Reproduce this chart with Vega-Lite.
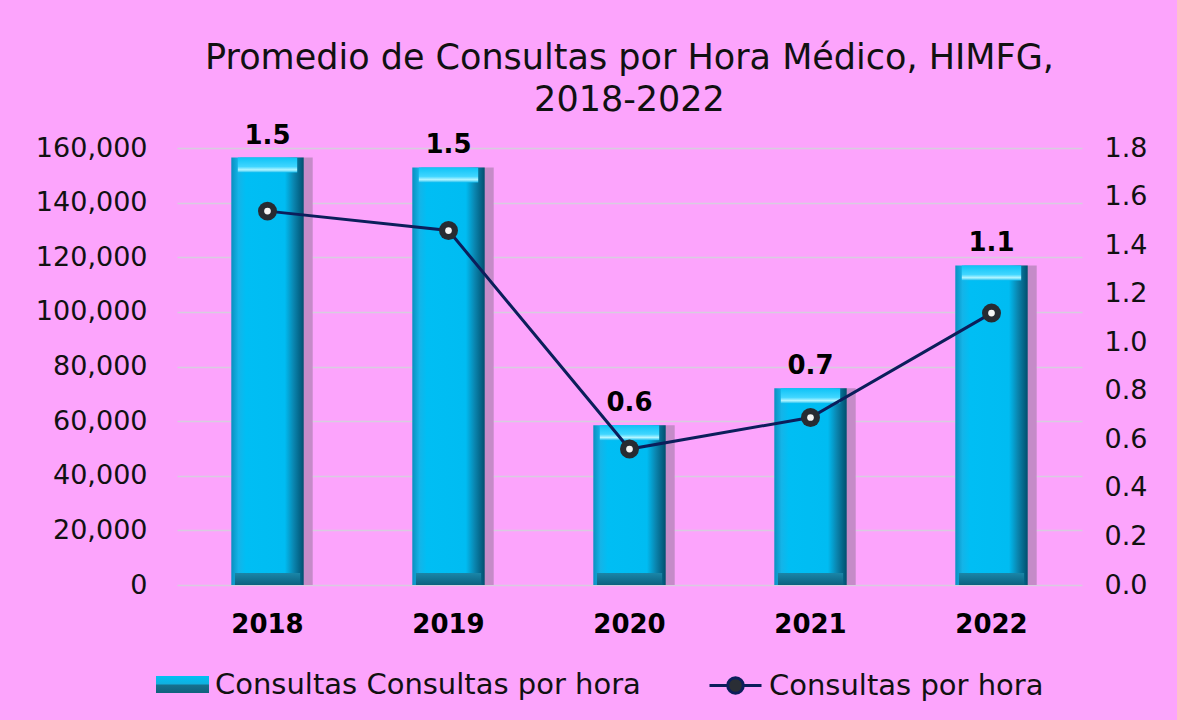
{
  "$schema": "https://vega.github.io/schema/vega-lite/v6.json",
  "width": 905,
  "height": 437,
  "autosize": {"type": "none"},
  "padding": {"left": 177, "top": 148, "right": 95, "bottom": 135},
  "background": "#FCA4FC",
  "title": {
    "text": ["Promedio de Consultas por Hora Médico, HIMFG,", "2018-2022"],
    "font": "DejaVu Sans",
    "fontSize": 35,
    "fontWeight": "normal",
    "color": "#111111",
    "anchor": "middle",
    "offset": 5,
    "lineHeight": 42
  },
  "config": {
    "view": {"stroke": null},
    "font": "DejaVu Sans",
    "legend": {
      "labelFont": "DejaVu Sans",
      "labelFontSize": 29,
      "labelColor": "#111111",
      "labelLimit": 700,
      "title": null
    }
  },
  "data": {
    "values": [
      {"year": "2018", "cons": 156500, "rate": 1.54},
      {"year": "2019", "cons": 152900, "rate": 1.46},
      {"year": "2020", "cons": 58500, "rate": 0.56},
      {"year": "2021", "cons": 72000, "rate": 0.69},
      {"year": "2022", "cons": 117000, "rate": 1.12}
    ]
  },
  "encoding": {
    "x": {
      "field": "year",
      "type": "ordinal",
      "scale": {"paddingInner": 0.6, "paddingOuter": 0.3},
      "axis": {
        "title": null,
        "labelAngle": 0,
        "labelFont": "DejaVu Sans",
        "labelFontSize": 26,
        "labelFontWeight": "bold",
        "labelColor": "#000000",
        "labelPadding": 26,
        "ticks": false,
        "tickSize": 0,
        "domain": false
      }
    }
  },
  "layer": [
    {
      "encoding": {
        "y": {
          "field": "cons",
          "type": "quantitative",
          "scale": {"domain": [0, 160000]},
          "axis": {
            "title": null,
            "values": [0, 20000, 40000, 60000, 80000, 100000, 120000, 140000, 160000],
            "format": ",d",
            "labelFont": "DejaVu Sans",
            "labelFontSize": 27,
            "labelColor": "#111111",
            "labelPadding": 30,
            "ticks": false,
            "tickSize": 0,
            "domain": false,
            "grid": true,
            "gridColor": "#D8CCE0",
            "gridWidth": 1.5
          }
        }
      },
      "layer": [
        {
          "mark": {
            "type": "point",
            "filled": true,
            "opacity": 1,
            "size": 1,
            "fill": {
              "gradient": "linear", "x1": 0, "y1": 0, "x2": 0, "y2": 1,
              "stops": [
                {"offset": 0, "color": "#00C0F4"},
                {"offset": 0.45, "color": "#10B0E0"},
                {"offset": 0.55, "color": "#16708E"},
                {"offset": 1, "color": "#10607E"}
              ]
            }
          },
          "encoding": {
            "y": {"datum": 20000, "type": "quantitative", "title": null},
            "shape": {
              "datum": "Consultas Consultas por hora",
              "scale": {"range": ["M-1,-0.32H1V0.32H-1Z"]},
              "legend": {
                "orient": "none",
                "legendX": -21,
                "legendY": 510,
                "symbolSize": 2809,
                "symbolStrokeWidth": 0,
                "labelOffset": 6
              }
            }
          }
        },
        {
          "mark": {"type": "bar", "xOffset": 9, "color": "#C58BC8"}
        },
        {
          "mark": {
            "type": "bar",
            "fill": {
              "gradient": "linear", "x1": 0, "y1": 0, "x2": 1, "y2": 0,
              "stops": [
                {"offset": 0, "color": "#0A8FC0"},
                {"offset": 0.1, "color": "#14B4E8"},
                {"offset": 0.2, "color": "#00BEF4"},
                {"offset": 0.74, "color": "#00BCF2"},
                {"offset": 0.86, "color": "#0A86B0"},
                {"offset": 1, "color": "#004F6E"}
              ]
            }
          }
        },
        {
          "mark": {
            "type": "bar",
            "width": {"band": 0.82},
            "y2Offset": 15,
            "fill": {
              "gradient": "linear", "x1": 0, "y1": 0, "x2": 0, "y2": 1,
              "stops": [
                {"offset": 0, "color": "#0FC2F6"},
                {"offset": 0.6, "color": "#40D6FF"},
                {"offset": 0.82, "color": "#B4F5FF"},
                {"offset": 1, "color": "#18BEF0"}
              ]
            }
          },
          "encoding": {
            "y2": {"field": "cons"}
          }
        },
        {
          "mark": {
            "type": "bar",
            "y2Offset": -12,
            "width": {"band": 0.9},
            "fill": {
              "gradient": "linear", "x1": 0, "y1": 0, "x2": 0, "y2": 1,
              "stops": [
                {"offset": 0, "color": "#1A86A8"},
                {"offset": 1, "color": "#0C6080"}
              ]
            }
          },
          "encoding": {
            "y": {"datum": 0, "type": "quantitative", "title": null},
            "y2": {"datum": 0}
          }
        },
        {
          "mark": {"type": "text", "font": "DejaVu Sans", "fontSize": 26, "fontWeight": "bold", "color": "#000000", "baseline": "bottom", "dy": -9},
          "encoding": {
            "text": {"field": "rate", "type": "quantitative", "format": ".1f"}
          }
        }
      ]
    },
    {
      "encoding": {
        "y": {
          "field": "rate",
          "type": "quantitative",
          "scale": {"domain": [0, 1.8]},
          "axis": {
            "orient": "right",
            "title": null,
            "values": [0, 0.2, 0.4, 0.6, 0.8, 1.0, 1.2, 1.4, 1.6, 1.8],
            "format": ".1f",
            "labelFont": "DejaVu Sans",
            "labelFontSize": 27,
            "labelColor": "#111111",
            "labelPadding": 22,
            "ticks": false,
            "tickSize": 0,
            "domain": false,
            "grid": false
          }
        }
      },
      "layer": [
        {
          "mark": {"type": "line", "strokeWidth": 3},
          "encoding": {
            "stroke": {
              "datum": "Consultas por hora",
              "scale": {"range": ["#0B1E5B"]},
              "legend": {
                "orient": "none",
                "legendX": 531,
                "legendY": 510,
                "symbolType": "M-1,0H-0.3M0.3,0H1M-0.3,0A0.3,0.3,0,1,1,0.3,0A0.3,0.3,0,1,1,-0.3,0Z",
                "symbolSize": 2704,
                "symbolStrokeWidth": 3,
                "symbolFillColor": "#2A2E35",
                "labelOffset": 6
              }
            }
          }
        },
        {
          "mark": {"type": "point", "shape": "circle", "filled": true, "size": 360, "color": "#272B32", "opacity": 1}
        },
        {
          "mark": {"type": "point", "shape": "circle", "filled": true, "size": 45, "color": "#F4F4F4", "opacity": 1}
        }
      ]
    }
  ],
  "resolve": {"scale": {"y": "independent"}}
}
